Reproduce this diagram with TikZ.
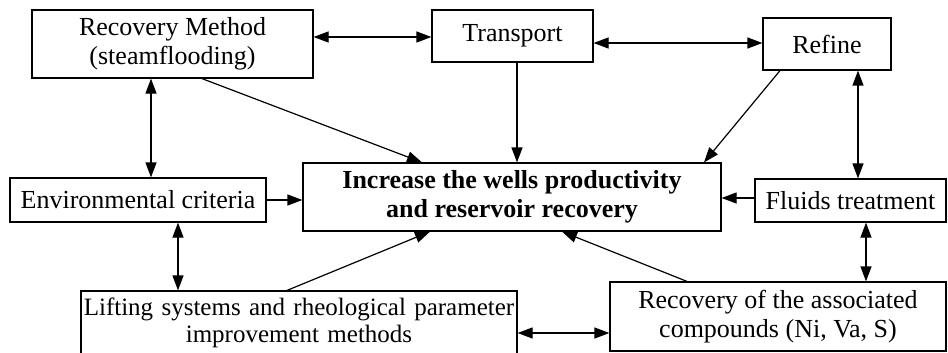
\documentclass[tikz,border=0pt]{standalone}
\usepackage{fontspec}
\setmainfont{Liberation Serif}
\usetikzlibrary{arrows.meta}
\begin{document}
\begin{tikzpicture}[x=1pt,y=-1pt,
  box/.style={draw,line width=1.2pt,rectangle,inner sep=0pt,align=center,
    font=\fontsize{26}{29}\selectfont},
  conn/.style={line width=1.2pt,-{Triangle[length=15pt,width=11pt]}},
  biconn/.style={line width=1.2pt,{Triangle[length=15pt,width=11pt]}-{Triangle[length=15pt,width=11pt]}}]
\useasboundingbox (0,0) rectangle (948,353);
\clip (0,0) rectangle (948,353);
\node[box,minimum width=281pt,minimum height=68pt] (rm) at (172.5,44) {Recovery Method\\(steamflooding)};
\node[box,minimum width=161pt,minimum height=52pt] (tr) at (512.5,36) {Transport};
\node[box,minimum width=128pt,minimum height=52pt] (rf) at (827,44) {Refine};
\node[box,minimum width=256pt,minimum height=44pt] (env) at (138,200) {Environmental criteria};
\node[box,minimum width=418pt,minimum height=68pt,font=\fontsize{26}{29}\selectfont\bfseries] (ctr) at (512,197) {Increase the wells productivity\\and reservoir recovery};
\node[box,minimum width=191pt,minimum height=43pt] (fl) at (850.5,200.5) {Fluids treatment};
\node[box,text width=436pt,minimum height=64pt,font=\fontsize{25}{27}\selectfont] (lf) at (299,323) {Lifting systems and rheological parameter\\improvement methods};
\node[box,minimum width=336pt,minimum height=69pt] (cp) at (778,316.5) {Recovery of the associated\\compounds (Ni, Va, S)};
% connectors
\draw[biconn] (rm.east |- 0,37) -- (tr.west |- 0,37);
\draw[biconn] (tr.east |- 0,43) -- (rf.west |- 0,43);
\draw[conn] (tr.south -| 517,0) -- (ctr.north -| 517,0);
\draw[conn] (rf.south -| 780,0) -- (ctr.north -| 704,0);
\draw[conn] (rm.south -| 202,0) -- (ctr.north -| 422,0);
\draw[biconn] (rm.south -| 151,0) -- (env.north -| 151,0);
\draw[biconn] (rf.south -| 858,0) -- (fl.north -| 858,0);
\draw[conn] (env.east |- 0,200) -- (ctr.west |- 0,200);
\draw[conn] (fl.west |- 0,198) -- (ctr.east |- 0,198);
\draw[biconn] (env.south -| 178,0) -- (lf.north -| 178,0);
\draw[conn] (lf.north -| 287,0) -- (ctr.south -| 430,0);
\draw[conn] (cp.north -| 687,0) -- (ctr.south -| 562,0);
\draw[biconn] (fl.south -| 866,0) -- (cp.north -| 866,0);
\draw[biconn] (lf.east |- 0,333) -- (cp.west |- 0,333);
\end{tikzpicture}
\end{document}
